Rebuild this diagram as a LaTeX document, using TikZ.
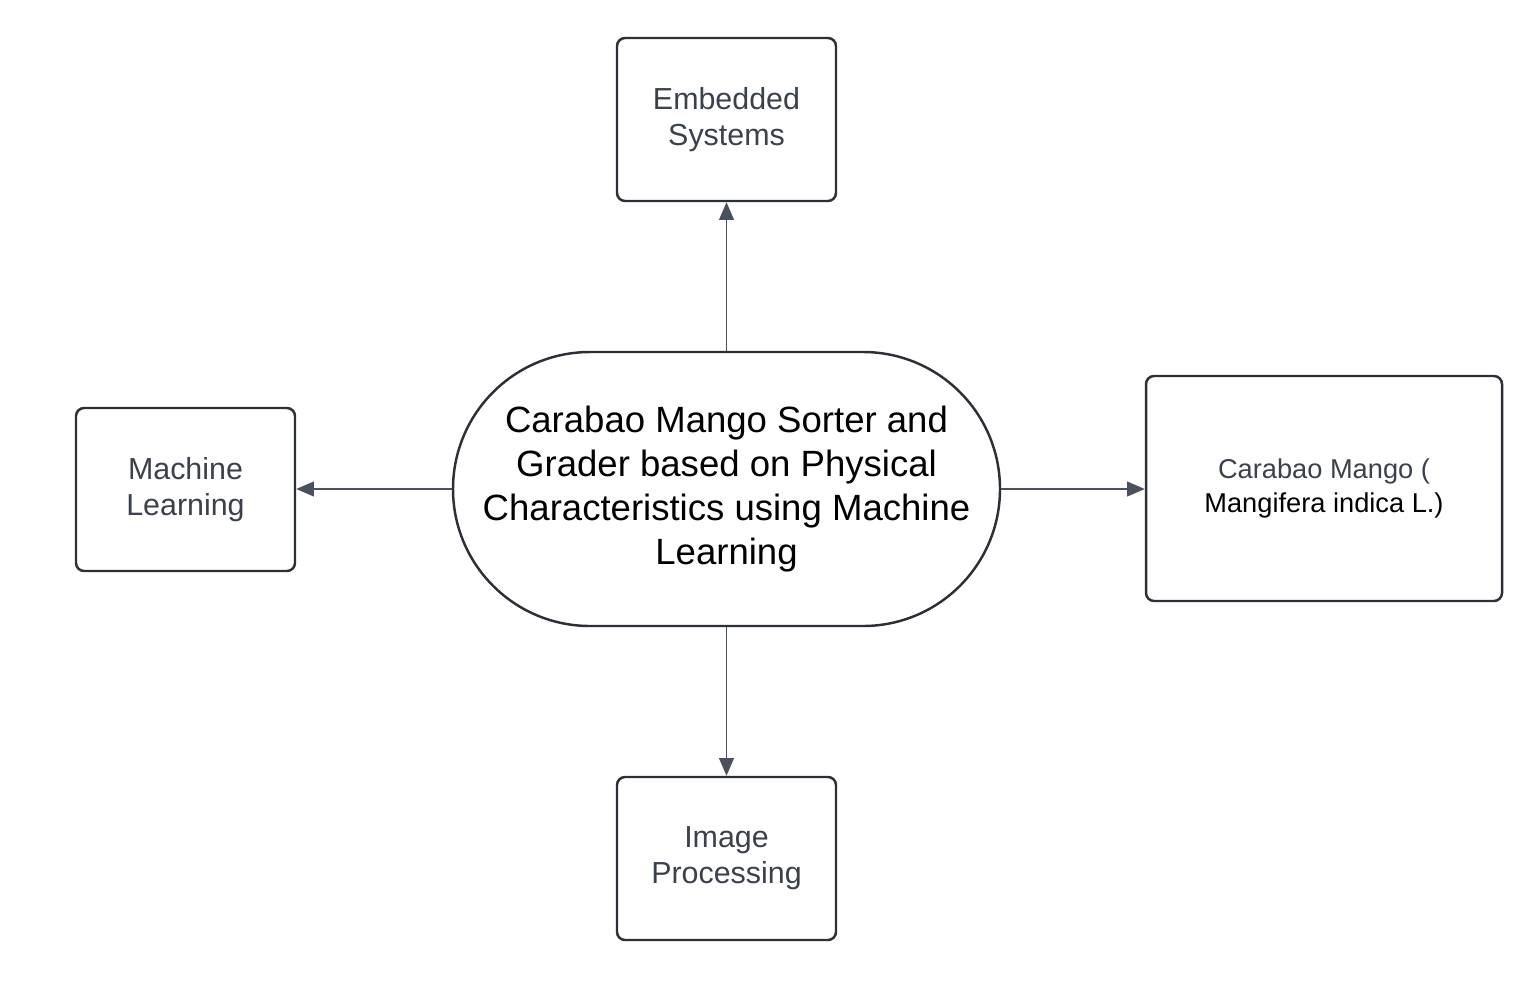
\documentclass[tikz,border=0pt]{standalone}
\usepackage{fontspec}
\setmainfont{Liberation Sans}
\usetikzlibrary{arrows.meta}
\definecolor{boxline}{HTML}{2B2F36}
\definecolor{boxtext}{HTML}{3A414C}
\definecolor{arrline}{HTML}{4A505C}
\tikzset{
  topic/.style={draw=boxline,line width=0.7pt,rounded corners=2.3pt,minimum width=2.19cm,minimum height=1.63cm,align=center,text=boxtext,font=\fontsize{8.65}{10.2}\selectfont},
  hub/.style={draw=boxline,line width=0.7pt,rounded corners=1.37cm,minimum width=5.47cm,minimum height=2.74cm,align=center,text=black,font=\fontsize{10.4}{12.5}\selectfont},
  link/.style={draw=arrline,line width=0.4pt,-{Triangle[length=5pt,width=4.2pt]}},
}
\begin{document}
\begin{tikzpicture}
    \useasboundingbox (0,0) rectangle (15.39,9.83);
    \node[hub] (sorter) at (7.265,4.94) {Carabao Mango Sorter and\\Grader based on Physical\\Characteristics using Machine\\Learning};
    \node[topic] (embedded) at (7.265,8.635) {Embedded\\Systems};
    \node[topic] (ml) at (1.855,4.935) {Machine\\Learning};
    \node[topic] (imgproc) at (7.265,1.245) {Image\\Processing};
    \node[topic,minimum width=3.56cm,minimum height=2.25cm,font=\fontsize{7.75}{9.7}\selectfont] (mango) at (13.24,4.945) {Carabao Mango (\\\textcolor{black}{Mangifera indica L.)}};
    % connectors from the hub
    \draw[link] (sorter.north) -- (embedded.south);
    \draw[link] (sorter.south) -- (imgproc.north);
    \draw[link] (sorter.west) -- (sorter.west -| ml.east);
    \draw[link] (sorter.east) -- (sorter.east -| mango.west);
\end{tikzpicture}
\end{document}
